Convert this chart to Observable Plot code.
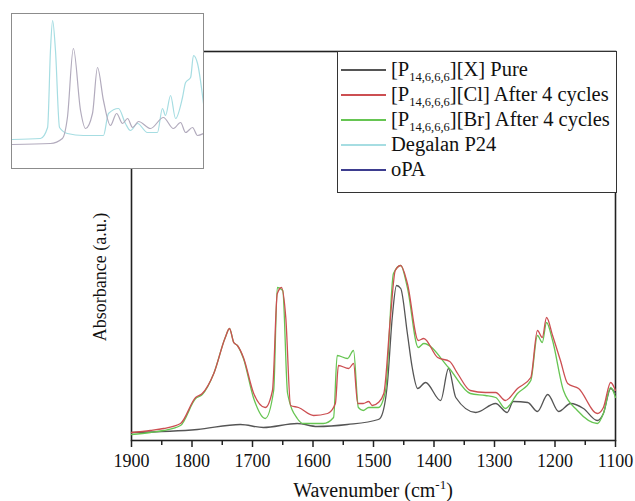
<!DOCTYPE html>
<html>
<head>
<meta charset="utf-8">
<script src="https://cdn.jsdelivr.net/npm/d3@7"></script>
<script src="https://cdn.jsdelivr.net/npm/@observablehq/plot@0.6"></script>
<style>
  html, body { margin: 0; padding: 0; background: #fff; }
  #wrap { position: relative; width: 635px; height: 501px; font-family: "Liberation Serif", "DejaVu Serif", serif; }
  #inset { position: absolute; left: 11px; top: 13px; width: 191px; height: 154px; background: #fff; border: 1.5px solid #8c8c8c; overflow: hidden; }
  #legend { position: absolute; left: 337px; top: 51px; width: 280px; height: 142px; background: #fff; border: 1.3px solid #333; box-sizing: border-box; }
  .row { position: absolute; left: 0; height: 25px; display: flex; align-items: center; font-size: 20.5px; color: #111; white-space: nowrap; font-family: "Liberation Serif", "DejaVu Serif", serif; }
  .sw { width: 45px; height: 2px; margin-left: 3px; margin-right: 5px; margin-top: 1px; }
  sub { font-size: 12.5px; vertical-align: -5px; line-height: 0; }
</style>
</head>
<body>
<div id="wrap">
  <div id="chart"></div>
  <div id="inset"></div>
  <div id="legend"></div>
</div>
<script>
// ---- Data (wavenumber cm^-1, absorbance a.u.) ----
const seriesNames = ["[P14,6,6,6][X] Pure", "[P14,6,6,6][Cl] After 4 cycles", "[P14,6,6,6][Br] After 4 cycles", "Degalan P24", "oPA"];
const seriesColors = ["#555555", "#cc4f52", "#66c552", "#a6dde2", "#3d3d8f"];

const pureW = [1900, 1791, 1720, 1682, 1626, 1593, 1543, 1492, 1488, 1477, 1469, 1462, 1455, 1444, 1436, 1427, 1414, 1389, 1376, 1364, 1331, 1298, 1279, 1269, 1245, 1229, 1212, 1194, 1174, 1153, 1130, 1120, 1108, 1100];
const pureA = [8, 11, 16, 13, 17, 14, 16, 21, 23, 57, 123, 155, 152, 107, 73, 52, 58, 40, 72, 43, 28, 37, 28, 39, 38, 29, 46, 29, 37, 32, 20, 27, 52, 47];

const clW = [1900, 1869, 1847, 1819, 1794, 1783, 1764, 1745, 1738, 1731, 1725, 1715, 1698, 1679, 1667, 1659, 1652, 1645, 1637, 1624, 1599, 1576, 1563, 1558, 1541, 1533, 1526, 1517, 1508, 1502, 1492, 1483, 1472, 1464, 1455, 1444, 1426, 1417, 1394, 1374, 1361, 1340, 1315, 1298, 1282, 1262, 1240, 1229, 1221, 1214, 1204, 1191, 1179, 1161, 1130, 1120, 1108, 1100];
const clA = [8, 10, 12, 17, 43, 47, 67, 103, 112, 98, 95, 83, 47, 33, 50, 147, 153, 123, 35, 33, 25, 27, 37, 75, 72, 77, 37, 37, 39, 35, 38, 47, 123, 170, 175, 157, 100, 102, 83, 79, 67, 50, 48, 48, 40, 52, 63, 110, 103, 123, 105, 80, 57, 52, 27, 33, 58, 50];

const brW = [1900, 1869, 1847, 1819, 1794, 1783, 1764, 1745, 1738, 1731, 1725, 1715, 1698, 1679, 1665, 1659, 1650, 1642, 1626, 1616, 1583, 1566, 1560, 1543, 1533, 1525, 1517, 1508, 1492, 1480, 1467, 1455, 1444, 1426, 1417, 1376, 1340, 1315, 1298, 1282, 1262, 1240, 1229, 1221, 1214, 1204, 1186, 1163, 1130, 1120, 1108, 1100];
const brA = [6, 8, 10, 15, 42, 46, 67, 103, 112, 98, 95, 82, 42, 22, 50, 153, 150, 47, 22, 17, 17, 23, 85, 82, 90, 33, 30, 33, 33, 50, 167, 175, 153, 93, 97, 73, 47, 45, 43, 32, 47, 60, 105, 98, 118, 100, 50, 30, 17, 27, 53, 43];

// inset spectra
const degW = [1900, 1783, 1753, 1741, 1732, 1720, 1703, 1670, 1603, 1519, 1498, 1456, 1427, 1406, 1376, 1335, 1293, 1272, 1259, 1238, 1217, 1188, 1175, 1154, 1142, 1125, 1100];
const degA = [29, 30, 41, 118, 148, 118, 41, 35, 33, 33, 55, 60, 45, 38, 45, 36, 36, 60, 53, 73, 50, 71, 86, 91, 113, 105, 65];
const opaW = [1900, 1741, 1691, 1670, 1645, 1615, 1594, 1565, 1544, 1519, 1490, 1464, 1439, 1418, 1397, 1372, 1322, 1268, 1226, 1196, 1175, 1146, 1125, 1100];
const opaA = [24, 25, 30, 51, 120, 58, 40, 55, 101, 68, 43, 55, 45, 50, 41, 47, 40, 51, 40, 46, 36, 41, 33, 35];

const xTicks = [1900, 1800, 1700, 1600, 1500, 1400, 1300, 1200, 1100];
const xMinor = [1850, 1750, 1650, 1550, 1450, 1350, 1250, 1150];

const toRows = (W, A, s) => W.map((w, i) => ({w, a: A[i], s}));
const main = [
  ...toRows(pureW, pureA, seriesNames[0]),
  ...toRows(brW, brA, seriesNames[2]),
  ...toRows(clW, clA, seriesNames[1])
];
const inset = [
  ...toRows(degW, degA, seriesNames[3]),
  ...toRows(opaW, opaA, seriesNames[4])
];

const color = {domain: seriesNames, range: seriesColors};
const serif = "'Liberation Serif', 'DejaVu Serif', serif";

const chart = Plot.plot({
  width: 635, height: 501,
  marginLeft: 131, marginRight: 20, marginTop: 51, marginBottom: 61,
  style: {fontFamily: serif, fontSize: "18px", color: "#111", background: "#fff"},
  x: {domain: [1900, 1100], label: null},
  y: {domain: [0, 389], axis: null},
  color,
  marks: [
    Plot.frame({stroke: "#222", strokeWidth: 1.6}),
    Plot.axisX({ticks: xTicks, tickSize: 7, tickPadding: 7, tickFormat: d => String(d), stroke: "#222", strokeWidth: 1.5}),
    Plot.axisX({ticks: xMinor, tickSize: 5, tickFormat: () => "", stroke: "#222", strokeWidth: 1.5}),
    Plot.line(main, {x: "w", y: "a", z: "s", stroke: "s", strokeWidth: 1.3, curve: "monotone-x"})
  ]
});
document.getElementById("chart").append(chart);

// axis titles with superscript
const svg = d3.select(chart);
const xt = svg.append("text").attr("x", 373).attr("y", 497).attr("text-anchor", "middle")
  .attr("font-size", 20).attr("font-family", serif).attr("fill", "#111");
xt.append("tspan").text("Wavenumber (cm");
xt.append("tspan").attr("dy", -8).attr("font-size", 13).text("-1");
xt.append("tspan").attr("dy", 8).text(")");
svg.append("text").attr("transform", "translate(106,277) rotate(-90)").attr("text-anchor", "middle")
  .attr("font-size", 18).attr("font-family", serif).attr("fill", "#111").text("Absorbance (a.u.)");

const insetPlot = Plot.plot({
  width: 191, height: 154,
  margin: 0,
  x: {domain: [1900, 1100], axis: null},
  y: {domain: [0, 154], axis: null},
  color,
  marks: [
    Plot.line(inset, {x: "w", y: "a", z: "s", stroke: d => d.s === seriesNames[4] ? "#b2abbd" : seriesColors[3], strokeWidth: 1.2, curve: "monotone-x"})
  ]
});
document.getElementById("inset").append(insetPlot);

// legend
const legendHtml = [
  "[P<sub>14,6,6,6</sub>][X] Pure",
  "[P<sub>14,6,6,6</sub>][Cl] After 4 cycles",
  "[P<sub>14,6,6,6</sub>][Br] After 4 cycles",
  "Degalan P24",
  "oPA"
];
const lg = document.getElementById("legend");
seriesNames.forEach((n, i) => {
  const r = document.createElement("div");
  r.className = "row";
  r.style.top = (5 + i * 25) + "px";
  r.innerHTML = `<span class="sw" style="background:${seriesColors[i]}"></span><span>${legendHtml[i]}</span>`;
  lg.append(r);
});
</script>
</body>
</html>
